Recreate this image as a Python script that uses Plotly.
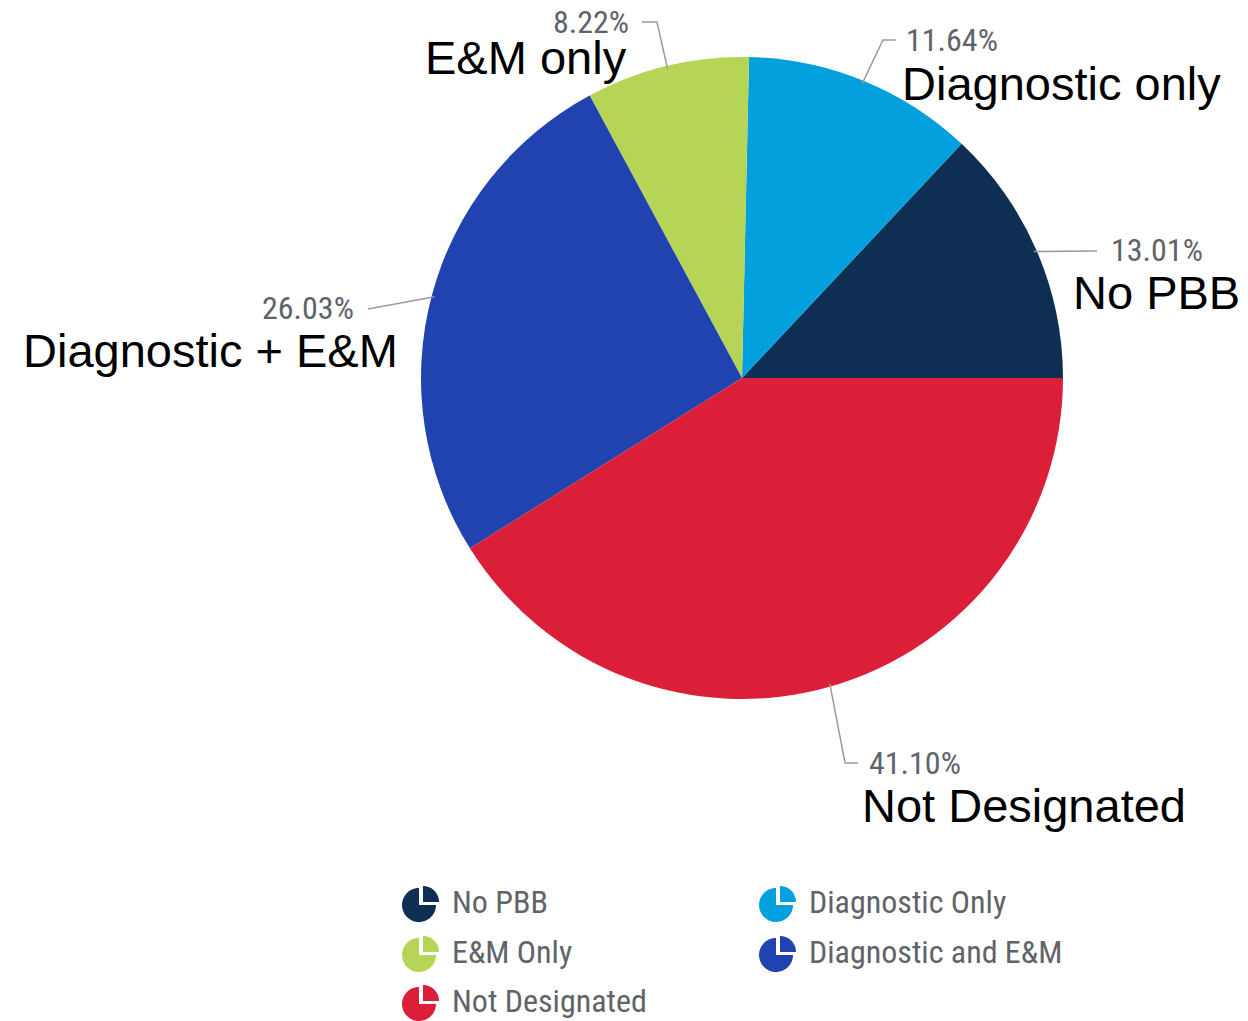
import math
import plotly.graph_objects as go

# Share of practices by PBB designation (percent)
categories = ["No PBB", "Diagnostic only", "E&M only", "Diagnostic + E&M", "Not Designated"]
legend_names = ["No PBB", "Diagnostic Only", "E&M Only", "Diagnostic and E&M", "Not Designated"]
shares = [13.01, 11.64, 8.22, 26.03, 41.10]
colors = ["#0e2f53", "#02a0dc", "#b6d455", "#2043b0", "#dc1f39"]

W, H = 1248, 1021
CX, CY, R = 742, 378, 321

PCT_FONT = "Liberation Sans Narrow, Roboto Condensed, Roboto, sans-serif"
BIG_FONT = "Liberation Sans, Arial, sans-serif"
GREY = "#60646a"
LINE_GREY = "#9a9a9a"
PAD = 3  # inner padding plotly puts around annotation text


def px(x, y):
    """pixel position -> paper coordinates (margins are zero)"""
    return x / W, 1 - y / H


def text_x(x, anchor):
    return x - PAD if anchor == "left" else x + PAD


# connector bend points, percent label anchor and category label anchor per slice
label_layout = [
    dict(path=[(1097, 251)], pct=(1112, 250, "left"), big=(1074, 292, "left")),
    dict(path=[(883, 40), (896, 40)], pct=(907, 40, "left"), big=(903, 83, "left")),
    dict(path=[(657, 22), (642, 22)], pct=(628, 22, "right"), big=(626, 58, "right")),
    dict(path=[(368, 309)], pct=(353, 308, "right"), big=(397, 351, "right")),
    dict(path=[(845, 763), (858, 763)], pct=(870, 763, "left"), big=(863, 805, "left")),
]

total = sum(shares)
# first slice starts at 3 o'clock and the pie runs counterclockwise;
# plotly puts the *end* of the first slice at `rotation` in that mode
start_rotation = 90 - shares[0] / total * 360

fig = go.Figure()
x0, y1 = px(CX - R, CY - R)
x1, y0 = px(CX + R, CY + R)
fig.add_trace(go.Pie(
    labels=categories,
    values=shares,
    sort=False,
    direction="counterclockwise",
    rotation=start_rotation,
    marker=dict(colors=colors, line=dict(width=0)),
    textinfo="none",
    hoverinfo="label+percent",
    showlegend=False,
    domain=dict(x=[x0, x1], y=[y0, y1]),
))

shapes = []
annotations = []
cum = 0.0
for name, val, lay in zip(categories, shares, label_layout):
    mid = (cum + val / 2) / total * 2 * math.pi
    cum += val
    ex, ey = CX + (R - 3) * math.cos(mid), CY - (R - 3) * math.sin(mid)
    pts = [(ex, ey)] + lay["path"]
    d = "M " + " L ".join("%.4f,%.4f" % px(x, y) for x, y in pts)
    shapes.append(dict(type="path", path=d, xref="paper", yref="paper",
                       line=dict(color=LINE_GREY, width=1.5)))
    tx, ty, anc = lay["pct"]
    ax, ay = px(text_x(tx, anc), ty)
    annotations.append(dict(x=ax, y=ay, xref="paper", yref="paper", text=f"{val:.2f}%",
                            showarrow=False, xanchor=anc, yanchor="middle",
                            font=dict(family=PCT_FONT, size=32, color=GREY)))
    bx, by, banc = lay["big"]
    ax, ay = px(text_x(bx, banc), by)
    annotations.append(dict(x=ax, y=ay, xref="paper", yref="paper", text=name,
                            showarrow=False, xanchor=banc, yanchor="middle",
                            font=dict(family=BIG_FONT, size=47, color="#000000")))


def arc_points(cx, cy, r, a0, a1, n=40):
    out = []
    for i in range(n + 1):
        a = math.radians(a0 + (a1 - a0) * i / n)
        out.append((cx + r * math.cos(a), cy - r * math.sin(a)))
    return out


def path_from(points):
    return "M " + " L ".join("%.5f,%.5f" % px(x, y) for x, y in points) + " Z"


# legend: small pie icons with an exploded quarter, two columns row-major
legend_cols = [419, 776]
legend_rows = [905, 955, 1004]
IR = 17
for i, (lname, col) in enumerate(zip(legend_names, colors)):
    cx = legend_cols[i % 2]
    cy = legend_rows[i // 2]
    body = [(cx, cy)] + arc_points(cx, cy, IR, 90, 360)
    wedge = [(cx + 4, cy - 3)] + arc_points(cx + 4, cy - 3, IR - 1, 0, 90, 20)
    for pts in (body, wedge):
        shapes.append(dict(type="path", path=path_from(pts), xref="paper", yref="paper",
                           fillcolor=col, line=dict(width=0)))
    ax, ay = px(cx + 34 - PAD, cy - 3)
    annotations.append(dict(x=ax, y=ay, xref="paper", yref="paper", text=lname,
                            showarrow=False, xanchor="left", yanchor="middle",
                            font=dict(family=PCT_FONT, size=32, color=GREY)))

fig.update_layout(
    width=W, height=H,
    margin=dict(l=0, r=0, t=0, b=0),
    paper_bgcolor="white", plot_bgcolor="white",
    shapes=shapes, annotations=annotations,
    showlegend=False,
)

fig.write_html("out.html")
